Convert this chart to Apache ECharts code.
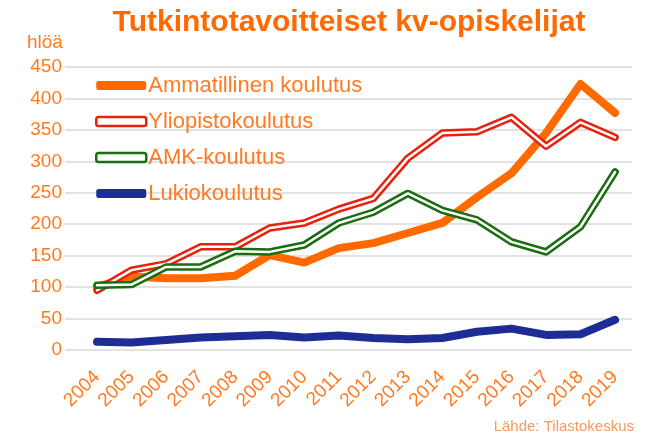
<!DOCTYPE html>
<html><head><meta charset="utf-8">
<script src="https://cdn.jsdelivr.net/npm/echarts@6/dist/echarts.min.js"></script>
<style>html,body{margin:0;padding:0;background:#fff}#c{width:655px;height:439px}</style>
</head><body><div id="c"></div>
<script>
const years = [2004,2005,2006,2007,2008,2009,2010,2011,2012,2013,2014,2015,2016,2017,2018,2019];
const ammatillinen = [100,117,114,114,118,151,139,162,170,186,202,243,281,345,423,377];
const yliopisto = [95,127,137,164,164,194,202,224,241,305,345,347,370,324,362,338];
const amk = [103,104,132,132,157,156,167,202,219,249,222,207,172,156,196,283];
const lukio = [13,12,16,20,22,24,20,23,19,17,19,29,34,24,25,48];
const yTicks = [0,50,100,150,200,250,300,350,400,450];

const names = ['Ammatillinen koulutus','Yliopistokoulutus','AMK-koulutus','Lukiokoulutus'];
const pair = a => years.map((y,i)=>[y,a[i]]);
const txt = '#FF7A22';
const chart = echarts.init(document.getElementById('c'));
const base = {type:'line', symbol:'none', silent:true, animation:false};
chart.setOption({
  animation:false,
  title:{text:'Tutkintotavoitteiset kv-opiskelijat', left:344, textAlign:'center', top:3,
    textStyle:{color:'#FF6A00', fontSize:30, fontWeight:'bold', fontFamily:'Liberation Sans'}},
  graphic:[
    {type:'text', left:27, top:33, style:{text:'hlöä', fill:txt, font:'19px "Liberation Sans"'}},
    {type:'text', right:21, top:419, style:{text:'Lähde: Tilastokeskus', fill:'#F59B5E', font:'15px "Liberation Sans"'}}
  ],
  legend:{orient:'vertical', left:90, top:68, itemWidth:50, itemHeight:9, itemGap:11,
    selectedMode:false,
    textStyle:{color:txt, fontSize:22, fontFamily:'Liberation Sans', lineHeight:25, padding:[0,0,0,-3]},
    data:[
      {name:names[0], icon:'roundRect', itemStyle:{color:'#FF6A00', borderWidth:0}},
      {name:names[1], icon:'roundRect', itemStyle:{color:'#fff', borderColor:'#E8200C', borderWidth:2.5}},
      {name:names[2], icon:'roundRect', itemStyle:{color:'#fff', borderColor:'#1A6E10', borderWidth:2.5}},
      {name:names[3], icon:'roundRect', itemStyle:{color:'#1E2D96', borderWidth:0}}
    ]},
  grid:{left:65, right:23, top:67, bottom:89, containLabel:false},
  xAxis:{type:'value', min:2003.073, max:2019.49,
    axisLine:{show:false}, axisTick:{show:false}, splitLine:{show:false},
    axisLabel:{customValues:years, rotate:45, color:txt, fontSize:19, fontFamily:'Liberation Sans', margin:24,
      formatter:v=>String(Math.round(v))}},
  yAxis:{type:'value', min:0, max:450, interval:50,
    axisLine:{show:false}, axisTick:{show:false},
    splitLine:{lineStyle:{color:'#D9D9D9', width:1.5}},
    axisLabel:{color:txt, fontSize:19, fontFamily:'Liberation Sans', margin:3}},
  series:[
    Object.assign({}, base, {name:names[0], data:pair(ammatillinen), z:2,
      lineStyle:{color:'#FF6A00', width:8, cap:'round', join:'round'}, itemStyle:{color:'#FF6A00'}}),
    Object.assign({}, base, {name:names[1], data:pair(yliopisto), z:3,
      lineStyle:{color:'#E8200C', width:7.5, cap:'round', join:'round'}, itemStyle:{color:'#E8200C'}}),
    Object.assign({}, base, {name:'y_in', data:pair(yliopisto), z:3,
      lineStyle:{color:'#ffffff', width:2.5, cap:'round', join:'round'}}),
    Object.assign({}, base, {name:names[2], data:pair(amk), z:4,
      lineStyle:{color:'#1A6E10', width:7.5, cap:'round', join:'round'}, itemStyle:{color:'#1A6E10'}}),
    Object.assign({}, base, {name:'a_in', data:pair(amk), z:4,
      lineStyle:{color:'#ffffff', width:2.5, cap:'round', join:'round'}}),
    Object.assign({}, base, {name:names[3], data:pair(lukio), z:5,
      lineStyle:{color:'#1E2D96', width:8, cap:'round', join:'round'}, itemStyle:{color:'#1E2D96'}})
  ]
});
</script></body></html>
